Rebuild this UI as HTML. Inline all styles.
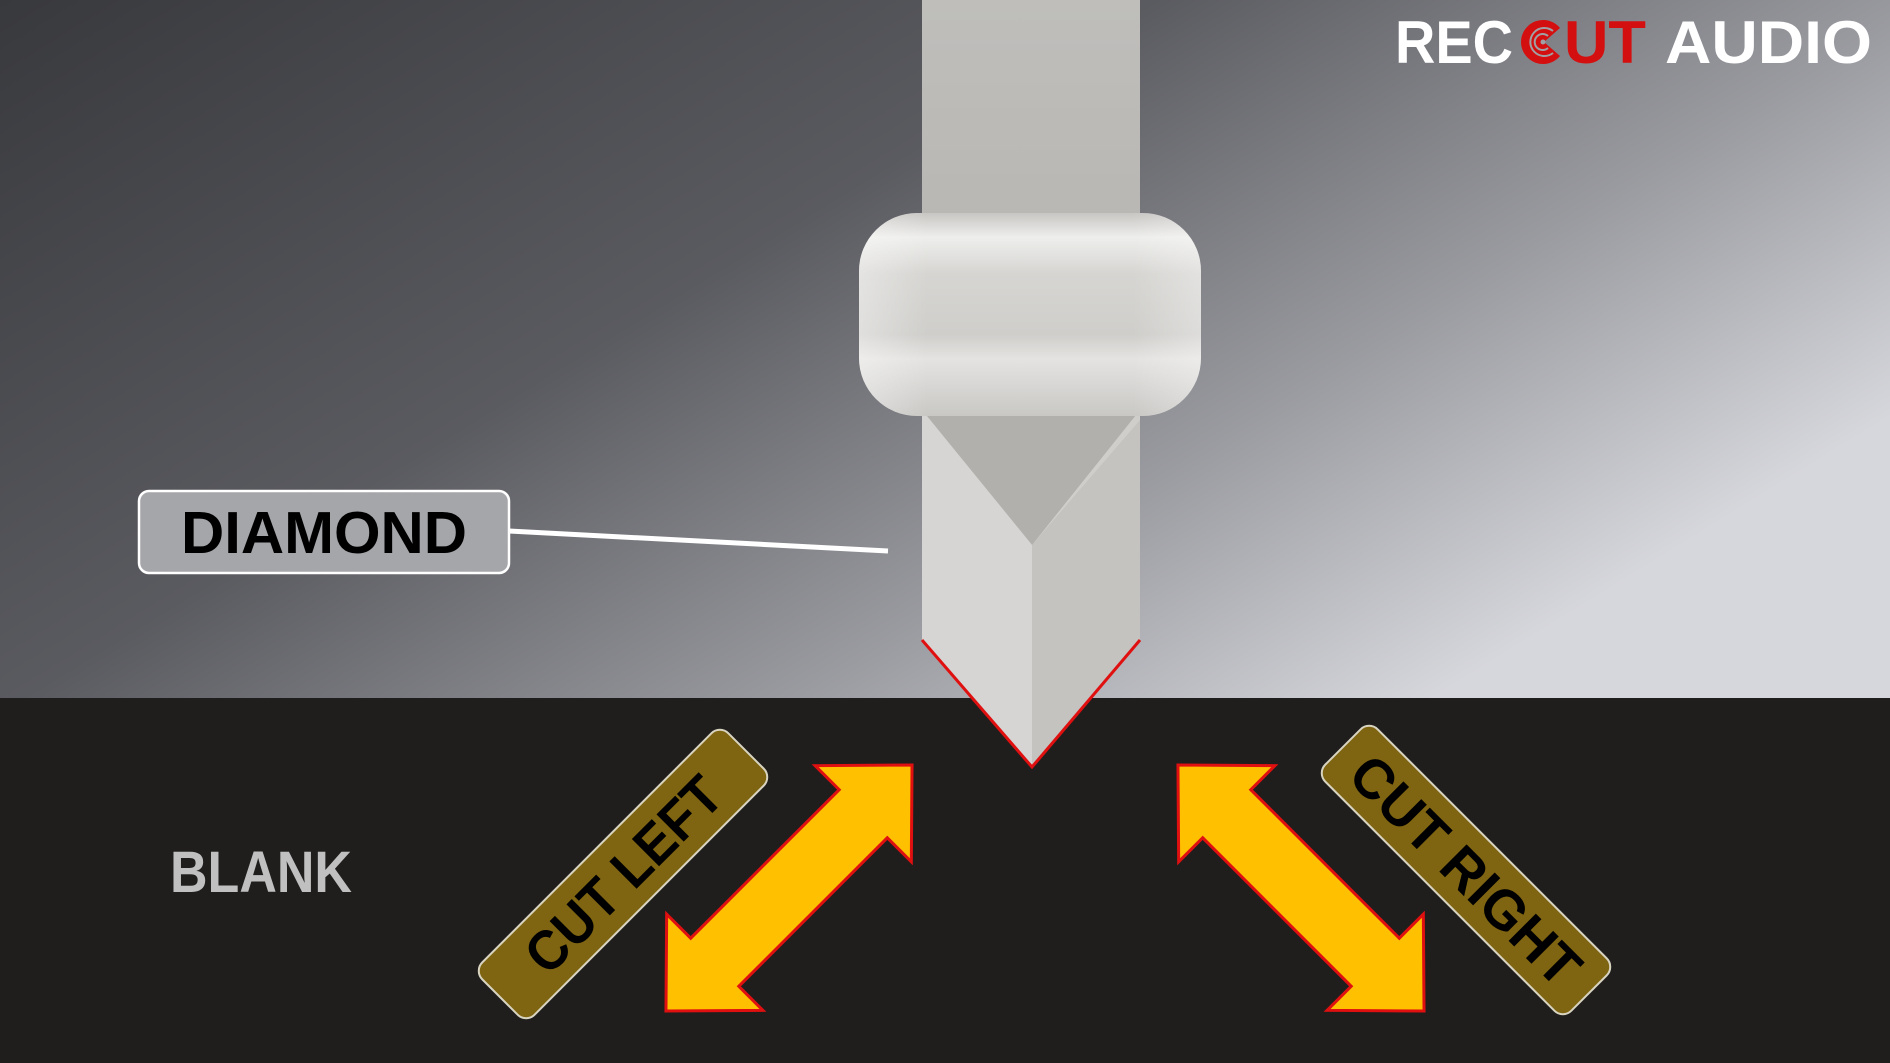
<!DOCTYPE html>
<html><head><meta charset="utf-8"><style>
html,body{margin:0;padding:0;width:1890px;height:1063px;overflow:hidden;background:#1f1e1d}
svg{display:block}
text{font-family:"Liberation Sans",sans-serif;font-weight:bold}
</style></head><body>
<svg width="1890" height="1063" viewBox="0 0 1890 1063" xmlns="http://www.w3.org/2000/svg">
<defs>
<linearGradient id="bg" x1="0" y1="0" x2="1" y2="0.6">
<stop offset="0" stop-color="#38393d"/>
<stop offset="0.45" stop-color="#5a5b60"/>
<stop offset="0.75" stop-color="#9a9ba0"/>
<stop offset="1" stop-color="#d6d7dc"/>
</linearGradient>
<linearGradient id="shank" x1="0" y1="0" x2="0" y2="1">
<stop offset="0" stop-color="#bfbebb"/>
<stop offset="1" stop-color="#b3b1ad"/>
</linearGradient>
<linearGradient id="ring" x1="0" y1="0" x2="0" y2="1">
<stop offset="0" stop-color="#c8c6c3"/>
<stop offset="0.12" stop-color="#eeeeec"/>
<stop offset="0.3" stop-color="#d6d5d2"/>
<stop offset="0.6" stop-color="#cfcecb"/>
<stop offset="0.72" stop-color="#e4e3e1"/>
<stop offset="1" stop-color="#c9c8c5"/>
</linearGradient>
<linearGradient id="ringx" x1="0" y1="0" x2="1" y2="0">
<stop offset="0" stop-color="#fff" stop-opacity="0.35"/>
<stop offset="0.2" stop-color="#fff" stop-opacity="0"/>
<stop offset="0.8" stop-color="#fff" stop-opacity="0"/>
<stop offset="1" stop-color="#fff" stop-opacity="0.3"/>
</linearGradient>
</defs>
<rect x="0" y="0" width="1890" height="698" fill="url(#bg)"/>
<rect x="0" y="698" width="1890" height="365" fill="#1f1e1d"/>

<!-- shank -->
<rect x="922" y="0" width="218" height="420" fill="url(#shank)"/>
<polygon points="922,400 1140,400 1140,640 1032,767 922,640" fill="#cfcecb"/>
<polygon points="1032,545 1140,420 1140,640 1032,767" fill="#c4c3c0"/>
<polygon points="922,410 1140,410 1032,545" fill="#b2b0ad"/>
<polygon points="922,410 1032,545 1032,767 922,640" fill="#d6d5d3"/>
<polyline points="922,640 1032,767 1140,640" fill="none" stroke="#e01010" stroke-width="3"/>

<!-- ring -->
<rect x="859" y="213" width="342" height="203" rx="58" ry="58" fill="url(#ring)"/>
<rect x="859" y="213" width="342" height="203" rx="58" ry="58" fill="url(#ringx)"/>

<!-- DIAMOND label -->
<line x1="509" y1="531" x2="888" y2="551" stroke="#fff" stroke-width="5"/>
<rect x="139" y="491" width="370" height="82" rx="10" fill="#a5a6aa" stroke="#fff" stroke-width="2.5"/>
<text x="324" y="553" font-size="59" text-anchor="middle" fill="#000" textLength="286" lengthAdjust="spacingAndGlyphs">DIAMOND</text>

<!-- BLANK -->
<text x="170" y="892" font-size="58" fill="#c0c0c0" textLength="182" lengthAdjust="spacingAndGlyphs">BLANK</text>

<!-- logo -->
<text x="1395" y="63" font-size="60" fill="#fff" textLength="118" lengthAdjust="spacingAndGlyphs">REC</text>
<g>
<path d="M1560,28 A22,22 0 1 0 1560,56 L1544,42 Z" fill="#d40f0f"/>
<path d="M1553,31 A14,14 0 1 0 1553,53" fill="none" stroke="#a0a0a4" stroke-width="2"/>
<path d="M1548,36 A8,8 0 1 0 1548,48" fill="none" stroke="#a0a0a4" stroke-width="2"/>
<circle cx="1543" cy="42" r="2.5" fill="#a0a0a4"/>
</g>
<text x="1564" y="63" font-size="60" fill="#d40f0f" textLength="82" lengthAdjust="spacingAndGlyphs">UT</text>
<text x="1665" y="63" font-size="60" fill="#fff" textLength="207" lengthAdjust="spacingAndGlyphs">AUDIO</text>

<!-- arrows -->
<g transform="translate(789,888) rotate(-45)">
<polygon points="-174,0 -105,-68 -105,-34 105,-34 105,-68 174,0 105,68 105,34 -105,34 -105,68" fill="#ffc000" stroke="#e01010" stroke-width="3" stroke-linejoin="miter"/>
</g>
<g transform="translate(1301,888) rotate(45)">
<polygon points="-174,0 -105,-68 -105,-34 105,-34 105,-68 174,0 105,68 105,34 -105,34 -105,68" fill="#ffc000" stroke="#e01010" stroke-width="3"/>
</g>

<!-- labels -->
<g transform="translate(623,874) rotate(-45)">
<rect x="-174" y="-37" width="348" height="74" rx="12" fill="#7f6512" stroke="#d8d4c0" stroke-width="2"/>
<text x="0" y="20" font-size="56" text-anchor="middle" fill="#000" textLength="252" lengthAdjust="spacingAndGlyphs">CUT LEFT</text>
</g>
<g transform="translate(1466,870) rotate(45)">
<rect x="-174" y="-37" width="348" height="74" rx="12" fill="#7f6512" stroke="#d8d4c0" stroke-width="2"/>
<text x="0" y="20" font-size="56" text-anchor="middle" fill="#000" textLength="300" lengthAdjust="spacingAndGlyphs">CUT RIGHT</text>
</g>
</svg>
</body></html>
